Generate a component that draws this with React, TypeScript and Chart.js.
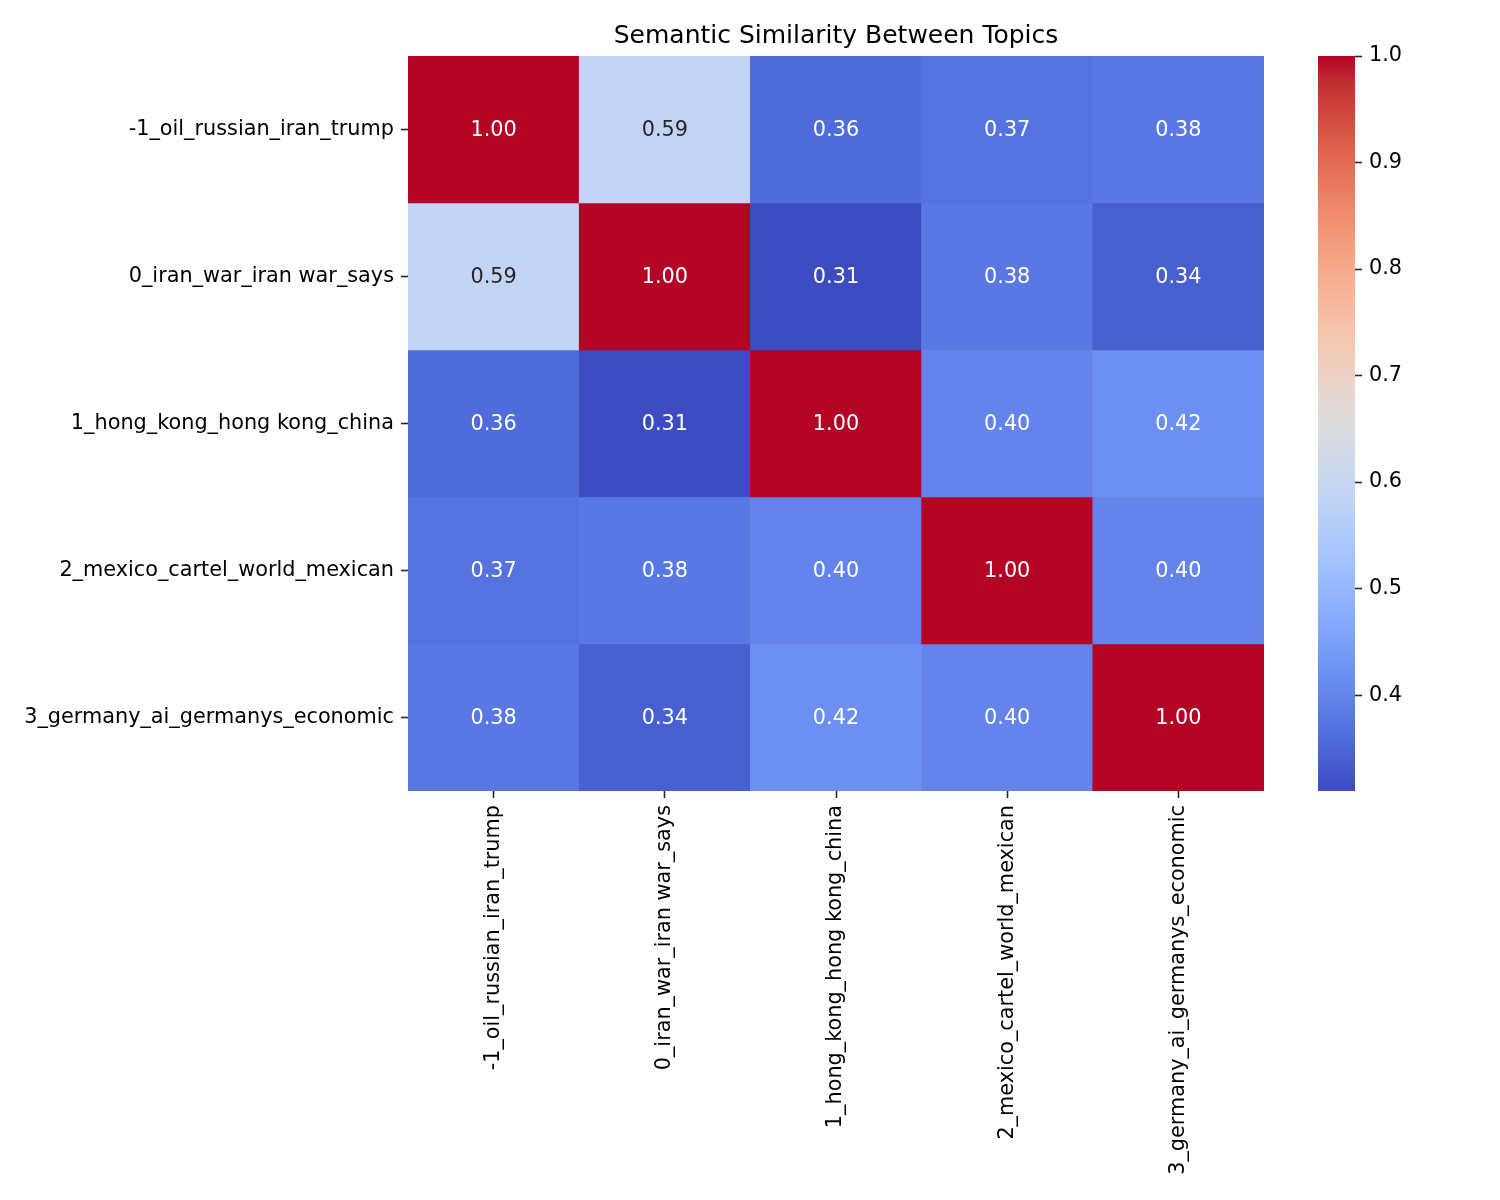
import React, { useEffect, useRef } from "react";
import { Chart, registerables } from "chart.js";

Chart.register(...registerables);

const topics = [
  "-1_oil_russian_iran_trump",
  "0_iran_war_iran war_says",
  "1_hong_kong_hong kong_china",
  "2_mexico_cartel_world_mexican",
  "3_germany_ai_germanys_economic",
];

const row0 = [1.0, 0.59, 0.36, 0.37, 0.38];
const row1 = [0.59, 1.0, 0.31, 0.38, 0.34];
const row2 = [0.36, 0.31, 1.0, 0.4, 0.42];
const row3 = [0.37, 0.38, 0.4, 1.0, 0.4];
const row4 = [0.38, 0.34, 0.42, 0.4, 1.0];
const matrix = [row0, row1, row2, row3, row4];

const colorbarTicks = [0.4, 0.5, 0.6, 0.7, 0.8, 0.9, 1.0];
const title = "Semantic Similarity Between Topics";

const vmin = Math.min(...matrix.flat());
const vmax = Math.max(...matrix.flat());

// matplotlib "coolwarm" control points
const coolwarm: number[][] = [
  [59, 76, 192], [68, 90, 204], [77, 104, 215], [87, 117, 225], [98, 130, 234],
  [108, 142, 241], [119, 154, 247], [130, 165, 251], [141, 176, 254], [152, 185, 255],
  [163, 194, 255], [174, 201, 253], [184, 208, 249], [194, 213, 244], [204, 217, 238],
  [213, 219, 230], [221, 221, 221], [229, 216, 209], [236, 211, 197], [241, 204, 185],
  [245, 196, 173], [247, 187, 160], [247, 177, 148], [247, 166, 135], [244, 154, 123],
  [241, 141, 111], [236, 127, 99], [229, 112, 88], [222, 96, 77], [213, 80, 66],
  [203, 62, 56], [192, 40, 47], [180, 4, 38],
];

function cmapRGB(t: number): number[] {
  const tt = Math.max(0, Math.min(1, t));
  const pos = tt * (coolwarm.length - 1);
  const i = Math.min(coolwarm.length - 2, Math.floor(pos));
  const f = pos - i;
  const a = coolwarm[i];
  const b = coolwarm[i + 1];
  return [0, 1, 2].map((k) => a[k] + (b[k] - a[k]) * f);
}
function rgbStr(c: number[]) {
  return `rgb(${Math.round(c[0])},${Math.round(c[1])},${Math.round(c[2])})`;
}
function colorFor(v: number) {
  return rgbStr(cmapRGB((v - vmin) / (vmax - vmin)));
}
function luminance(c: number[]) {
  const lin = c.map((x) => {
    const s = x / 255;
    return s <= 0.03928 ? s / 12.92 : Math.pow((s + 0.055) / 1.055, 2.4);
  });
  return 0.2126 * lin[0] + 0.7152 * lin[1] + 0.0722 * lin[2];
}

const FONT = "'DejaVu Sans', sans-serif";
const TICK_SIZE = 20.8;
const TITLE_SIZE = 25;

const annotatePlugin = {
  id: "annotate",
  afterDatasetsDraw(chart: any) {
    const ctx = chart.ctx;
    ctx.save();
    ctx.font = `${TICK_SIZE}px ${FONT}`;
    ctx.textAlign = "center";
    ctx.textBaseline = "middle";
    chart.data.datasets.forEach((ds: any, i: number) => {
      const meta = chart.getDatasetMeta(i);
      meta.data.forEach((el: any, j: number) => {
        const v = matrix[i][j];
        const c = cmapRGB((v - vmin) / (vmax - vmin));
        ctx.fillStyle = luminance(c) > 0.408 ? "#262626" : "#ffffff";
        const xs = chart.scales.x.getPixelForValue(j);
        const ys = chart.scales.y.getPixelForValue(i + 0.5);
        ctx.fillText(v.toFixed(2), xs, ys + 1);
      });
    });
    const ca = chart.chartArea;
    ctx.fillStyle = "#000000";
    ctx.font = `${TITLE_SIZE}px ${FONT}`;
    ctx.textBaseline = "alphabetic";
    ctx.fillText(title, (ca.left + ca.right) / 2, ca.top - 13);
    ctx.restore();
  },
};

const tickGrid = {
  drawOnChartArea: false,
  drawTicks: true,
  tickLength: 7,
  tickWidth: 1.6,
  tickColor: "#262626",
};

export default function App() {
  const mainRef = useRef<HTMLCanvasElement>(null);
  const cbRef = useRef<HTMLCanvasElement>(null);

  useEffect(() => {
    const main = new Chart(mainRef.current!, {
      type: "bar",
      data: {
        labels: topics,
        datasets: matrix.map((row, i) => ({
          label: topics[i],
          data: row.map(() => 1),
          backgroundColor: row.map((v) => colorFor(v)),
          borderWidth: 0,
          barPercentage: 1,
          categoryPercentage: 1,
        })),
      },
      options: {
        animation: false,
        responsive: false,
        events: [],
        layout: { padding: { top: 56, left: 0, right: 236, bottom: 0 } },
        plugins: {
          legend: { display: false },
          tooltip: { enabled: false },
          title: { display: false },
        },
        scales: {
          x: {
            stacked: true,
            offset: true,
            grid: { ...tickGrid, offset: false },
            border: { display: false },
            ticks: {
              autoSkip: false,
              minRotation: 90,
              maxRotation: 90,
              padding: 7,
              color: "#000000",
              font: { family: FONT, size: TICK_SIZE },
            },
            afterFit: (s: any) => {
              s.height = 409;
            },
          },
          y: {
            type: "linear",
            stacked: true,
            min: 0,
            max: 5,
            reverse: true,
            grid: tickGrid,
            border: { display: false },
            afterBuildTicks: (s: any) => {
              s.ticks = topics.map((_, i) => ({ value: i + 0.5 }));
            },
            ticks: {
              autoSkip: false,
              padding: 7,
              color: "#000000",
              font: { family: FONT, size: TICK_SIZE },
              callback: (v: any) => topics[Math.floor(Number(v))],
            },
            afterFit: (s: any) => {
              s.width = 408;
            },
          },
        },
      },
      plugins: [annotatePlugin],
    });

    const cb = new Chart(cbRef.current!, {
      type: "bar",
      data: {
        labels: ["cb"],
        datasets: [
          {
            data: [[vmin, vmax]] as any,
            borderWidth: 0,
            barPercentage: 1,
            categoryPercentage: 1,
            backgroundColor: (context: any) => {
              const chart = context.chart;
              const ca = chart.chartArea;
              if (!ca) return "#888";
              const g = chart.ctx.createLinearGradient(0, ca.bottom, 0, ca.top);
              coolwarm.forEach((c, k) => g.addColorStop(k / (coolwarm.length - 1), rgbStr(c)));
              return g;
            },
          },
        ],
      },
      options: {
        animation: false,
        responsive: false,
        events: [],
        layout: { padding: { top: 56, bottom: 409, left: 0, right: 0 } },
        plugins: { legend: { display: false }, tooltip: { enabled: false } },
        scales: {
          x: { display: false, offset: true },
          y: {
            type: "linear",
            position: "right",
            min: vmin,
            max: vmax,
            grid: tickGrid,
            border: { display: false },
            afterBuildTicks: (s: any) => {
              s.ticks = colorbarTicks.map((v) => ({ value: v }));
            },
            ticks: {
              padding: 7,
              color: "#000000",
              font: { family: FONT, size: TICK_SIZE },
              callback: (v: any) => Number(v).toFixed(1),
            },
            afterFit: (s: any) => {
              s.width = 145;
            },
          },
        },
      },
    });

    return () => {
      main.destroy();
      cb.destroy();
    };
  }, []);

  return (
    <>
      <canvas
        ref={mainRef}
        width={1500}
        height={1200}
        style={{ position: "absolute", left: 0, top: 0, width: 1500, height: 1200 }}
      />
      <canvas
        ref={cbRef}
        width={182}
        height={1200}
        style={{ position: "absolute", left: 1318, top: 0, width: 182, height: 1200 }}
      />
    </>
  );
}
